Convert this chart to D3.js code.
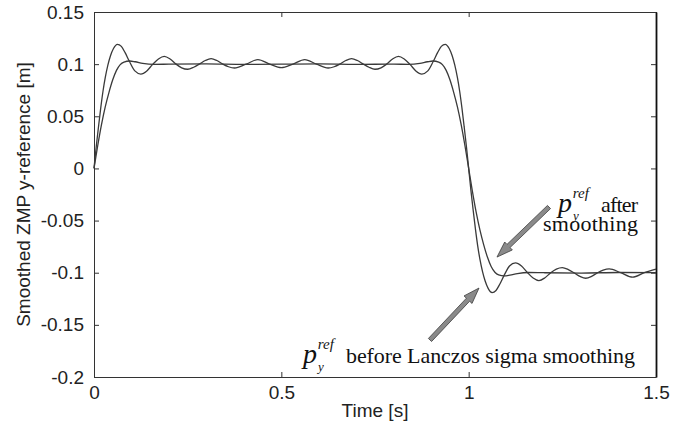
<!DOCTYPE html>
<html>
<head>
<meta charset="utf-8">
<script src="https://cdn.jsdelivr.net/npm/d3@7"></script>
<style>
  body { margin: 0; background: #fff; }
  svg { display: block; }
  .axis text { font-family: "Liberation Sans", Arial, sans-serif; font-size: 19px; fill: #222; }
  .axis path, .axis line { stroke: #333; }
  .note { font-family: "Liberation Serif", "Times New Roman", serif; fill: #111; }
</style>
</head>
<body>
<div id="chart"></div>
<script>
// set the size of svg
const width = 688; const height = 429;
const margin = {top: 12, right: 32, bottom: 52, left: 94};
const innerWidth = width - margin.left - margin.right;
const innerHeight = height - margin.top - margin.bottom;

// ticks
const xTicks = [0, 0.5, 1, 1.5];
const yTicks = [-0.2, -0.15, -0.1, -0.05, 0, 0.05, 0.1, 0.15];

// reference before sigma smoothing
const rawTime = [0, 0.006, 0.012, 0.018, 0.024, 0.030, 0.037, 0.044, 0.052, 0.0625,
  0.073, 0.083, 0.094, 0.109, 0.125, 0.141, 0.156, 0.172, 0.1875, 0.203,
  0.219, 0.234, 0.25, 0.266, 0.281, 0.297, 0.3125, 0.328, 0.344, 0.359,
  0.375, 0.406, 0.4375, 0.469, 0.5, 0.531, 0.5625, 0.594, 0.625, 0.641,
  0.656, 0.672, 0.6875, 0.703, 0.719, 0.734, 0.75, 0.766, 0.781, 0.797,
  0.8125, 0.828, 0.844, 0.859, 0.875, 0.891, 0.906, 0.917, 0.927, 0.9375,
  0.948, 0.956, 0.963, 0.970, 0.976, 0.982, 0.988, 0.994, 1.0,
  1.006, 1.012, 1.018, 1.024, 1.030, 1.037, 1.044, 1.052, 1.0625,
  1.073, 1.083, 1.094, 1.109, 1.125, 1.141, 1.156, 1.172, 1.1875, 1.203,
  1.219, 1.234, 1.25, 1.266, 1.281, 1.297, 1.3125, 1.328, 1.344, 1.359,
  1.375, 1.406, 1.4375, 1.469, 1.5];
const rawValue = [0, 0.021, 0.040, 0.058, 0.074, 0.087, 0.099, 0.108, 0.115, 0.119,
  0.117, 0.111, 0.103, 0.0935, 0.0905, 0.0935, 0.0995, 0.105, 0.1075, 0.105,
  0.1, 0.0965, 0.0951, 0.097, 0.1, 0.1035, 0.1053, 0.1035, 0.1, 0.0975,
  0.0963, 0.1, 0.1043, 0.1, 0.0966, 0.1, 0.1043, 0.1, 0.0963, 0.0975,
  0.1, 0.1035, 0.1053, 0.1035, 0.1, 0.097, 0.0951, 0.0965, 0.1, 0.105,
  0.1075, 0.105, 0.0995, 0.0935, 0.0905, 0.0935, 0.103, 0.111, 0.117, 0.119,
  0.115, 0.108, 0.099, 0.087, 0.074, 0.058, 0.040, 0.021, 0,
  -0.021, -0.040, -0.058, -0.074, -0.087, -0.099, -0.108, -0.115, -0.119,
  -0.117, -0.111, -0.103, -0.0935, -0.0905, -0.0935, -0.0995, -0.105, -0.1075, -0.105,
  -0.1, -0.0965, -0.0951, -0.097, -0.1, -0.1035, -0.1053, -0.1035, -0.1, -0.0975,
  -0.0963, -0.1, -0.1043, -0.1, -0.0966];

// reference after sigma smoothing
const smoothTime = [0, 0.01, 0.02, 0.03, 0.04, 0.05, 0.06, 0.07, 0.08, 0.095,
  0.11, 0.13, 0.16, 0.2, 0.3, 0.4, 0.5, 0.6, 0.7, 0.8,
  0.84, 0.87, 0.89, 0.905, 0.92, 0.93, 0.94, 0.95, 0.96, 0.97, 0.98, 0.99, 1.0,
  1.01, 1.02, 1.03, 1.04, 1.05, 1.06, 1.07, 1.08, 1.095,
  1.11, 1.13, 1.16, 1.2, 1.3, 1.4, 1.5];
const smoothValue = [0, 0.022, 0.042, 0.059, 0.073, 0.085, 0.094, 0.0995, 0.102, 0.103,
  0.1023, 0.1008, 0.0998, 0.1, 0.1003, 0.0998, 0.1, 0.1002, 0.0998, 0.1,
  0.0998, 0.1008, 0.1023, 0.103, 0.102, 0.0995, 0.094, 0.085, 0.073, 0.059, 0.042, 0.022, 0,
  -0.022, -0.042, -0.059, -0.073, -0.085, -0.094, -0.0995, -0.102, -0.103,
  -0.1023, -0.1008, -0.0998, -0.1, -0.1003, -0.0998, -0.1];

const svg = d3.select("#chart")
  .append("svg")
    .attr("width", width)
    .attr("height", height);

const x = d3.scaleLinear().domain([0, 1.5]).range([margin.left, margin.left + innerWidth]);
const y = d3.scaleLinear().domain([-0.2, 0.15]).range([margin.top + innerHeight, margin.top]);

// box axes with inward ticks (matlab style)
svg.append("g")
  .attr("class", "axis")
  .attr("transform", `translate(0, ${y(-0.2)})`)
  .call(d3.axisBottom(x).tickValues(xTicks).tickSizeInner(-5).tickSizeOuter(0)
    .tickPadding(9).tickFormat(d => String(d)));
svg.append("g")
  .attr("class", "axis")
  .attr("transform", `translate(0, ${y(0.15)})`)
  .call(d3.axisTop(x).tickValues(xTicks).tickSizeInner(-5).tickSizeOuter(0).tickFormat(""));
svg.append("g")
  .attr("class", "axis")
  .attr("transform", `translate(${x(0)}, 0)`)
  .call(d3.axisLeft(y).tickValues(yTicks).tickSizeInner(-5).tickSizeOuter(0)
    .tickPadding(10).tickFormat(d => String(d)));
svg.append("g")
  .attr("class", "axis")
  .attr("transform", `translate(${x(1.5)}, 0)`)
  .call(d3.axisRight(y).tickValues(yTicks).tickSizeInner(-5).tickSizeOuter(0).tickFormat(""))
  .select(".domain").attr("stroke-width", 1.8).style("stroke", "#111");

// axis titles
svg.append("text")
  .attr("x", x(0.75)).attr("y", 417)
  .attr("text-anchor", "middle")
  .style("font-family", "'Liberation Sans', Arial, sans-serif")
  .style("font-size", "19px").style("fill", "#222")
  .text("Time [s]");
svg.append("text")
  .attr("transform", `translate(30, ${y(-0.025)}) rotate(-90)`)
  .attr("text-anchor", "middle")
  .style("font-family", "'Liberation Sans', Arial, sans-serif")
  .style("font-size", "19px").style("fill", "#222")
  .text("Smoothed ZMP y-reference [m]");

// curves
const line = d3.line()
  .x(d => x(d[0]))
  .y(d => y(d[1]))
  .curve(d3.curveMonotoneX);

svg.append("path")
  .datum(d3.zip(rawTime, rawValue))
  .attr("d", line)
  .attr("fill", "none").attr("stroke", "#3a3a3a").attr("stroke-width", 1.3);
svg.append("path")
  .datum(d3.zip(smoothTime, smoothValue))
  .attr("d", line)
  .attr("fill", "none").attr("stroke", "#3a3a3a").attr("stroke-width", 1.3);

// gray block arrows
function arrow(tail, tip){
  const x0 = x(tail[0]), y0 = y(tail[1]), x1 = x(tip[0]), y1 = y(tip[1]);
  const len = Math.hypot(x1 - x0, y1 - y0);
  const ux = (x1 - x0) / len, uy = (y1 - y0) / len;
  const nx = -uy, ny = ux;
  const sw = 2.2, hw = 5.5, hl = 16;
  const bx = x1 - ux * hl, by = y1 - uy * hl;
  const pts = [
    [x0 + nx * sw, y0 + ny * sw], [bx + nx * sw, by + ny * sw], [bx + nx * hw, by + ny * hw],
    [x1, y1],
    [bx - nx * hw, by - ny * hw], [bx - nx * sw, by - ny * sw], [x0 - nx * sw, y0 - ny * sw]
  ];
  svg.append("path")
    .attr("d", "M" + pts.map(p => p.join(",")).join("L") + "Z")
    .attr("fill", "#8a8a8a").attr("stroke", "#3c3c3c").attr("stroke-width", 0.8);
}
arrow([1.2144, -0.037], [1.0756, -0.085]);
arrow([0.8968, -0.1645], [1.0276, -0.1147]);

// annotation labels: p with sub y and sup ref, then the words, in one text
function note(px, py, words, wordsLength){
  const t = svg.append("text").attr("class", "note").attr("x", px).attr("y", py);
  t.append("tspan").style("font-size", "28px").style("font-style", "italic").text("p");
  t.append("tspan").attr("dx", 1).attr("dy", 8).style("font-size", "13px").style("font-style", "italic").text("y");
  t.append("tspan").attr("dx", -6).attr("dy", -22).style("font-size", "15px").style("font-style", "italic").text("ref");
  t.append("tspan").attr("x", px + 43).attr("y", py).style("font-size", "22px")
    .attr("textLength", wordsLength).text(words);
}
note(558, 212, "after", 37);
svg.append("text").attr("class", "note").attr("x", 543).attr("y", 231)
  .style("font-size", "22px").attr("textLength", 95).text("smoothing");
note(303, 363, "before Lanczos sigma smoothing", 289);
</script>
</body>
</html>
